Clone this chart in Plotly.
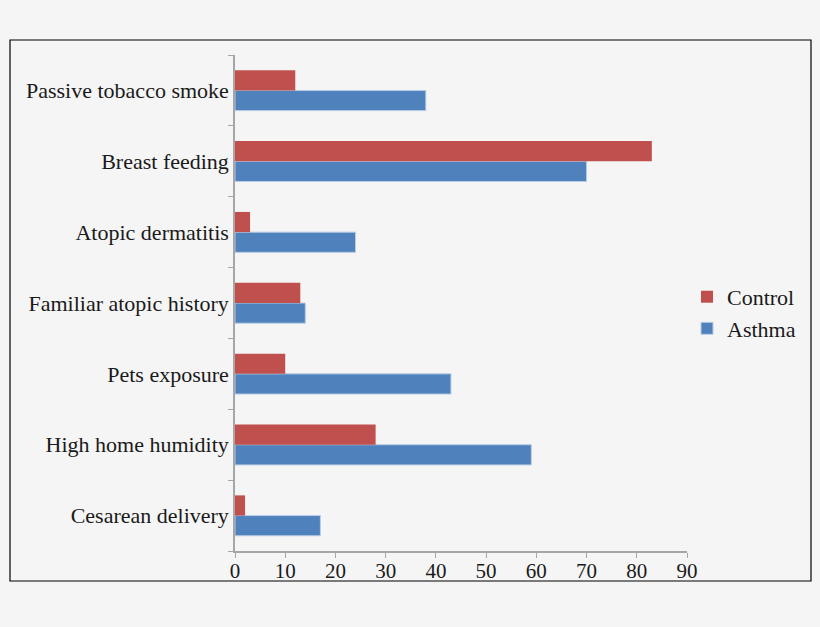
import plotly.graph_objects as go

# Risk factors (bottom to top as plotted)
factors = ["Cesarean delivery", "High home humidity", "Pets exposure",
           "Familiar atopic history", "Atopic dermatitis", "Breast feeding",
           "Passive tobacco smoke"]
asthma = [17, 59, 43, 14, 24, 70, 38]
control = [2, 28, 10, 13, 3, 83, 12]

font_family = "Liberation Serif, DejaVu Serif, serif"

fig = go.Figure()
fig.add_trace(go.Bar(y=factors, x=asthma, name="Asthma", orientation="h",
                     marker=dict(color="#4F81BD", line=dict(color="#B9CDE5", width=1))))
fig.add_trace(go.Bar(y=factors, x=control, name="Control", orientation="h",
                     marker=dict(color="#C0504D", line=dict(color="#C0504D", width=0))))

# outer frame (plot area spans 235..687 x 55..551 px)
fig.add_shape(type="rect", xref="paper", yref="paper",
              x0=(10 - 235) / 452, x1=(811 - 235) / 452,
              y0=(551 - 581) / 496, y1=(551 - 40) / 496,
              line=dict(color="black", width=1.2), layer="below")

fig.update_layout(
    width=820, height=627,
    margin=dict(l=235, r=133, t=55, b=76),
    barmode="group", bargap=0.43, bargroupgap=0,
    paper_bgcolor="#F5F5F5", plot_bgcolor="#F5F5F5",
    font=dict(family=font_family, size=22, color="#1A1A1A"),
    showlegend=True,
    legend=dict(x=1.0, y=0.48, xanchor="left", yanchor="middle",
                traceorder="reversed", bgcolor="rgba(0,0,0,0)",
                font=dict(size=22), itemwidth=30, tracegroupgap=0),
)
fig.update_xaxes(range=[0, 90], dtick=10, showgrid=False, zeroline=False,
                 showline=True, linecolor="#A6A6A6", linewidth=1.5,
                 ticks="outside", ticklen=5, tickcolor="#A6A6A6",
                 ticklabelstandoff=-5, tickfont=dict(size=21))
fig.update_yaxes(showgrid=False, zeroline=False, showline=True,
                 linecolor="#A6A6A6", linewidth=1.5,
                 ticks="outside", ticklen=5, tickcolor="#A6A6A6",
                 tickson="boundaries", ticklabelstandoff=0,
                 tickfont=dict(size=22))

# remove default page margin so the figure sits at the window origin
fig.write_html("out.html", config={"displayModeBar": False},
               post_script="document.body.style.margin='0';"
                           "document.body.style.background='#F5F5F5';")
